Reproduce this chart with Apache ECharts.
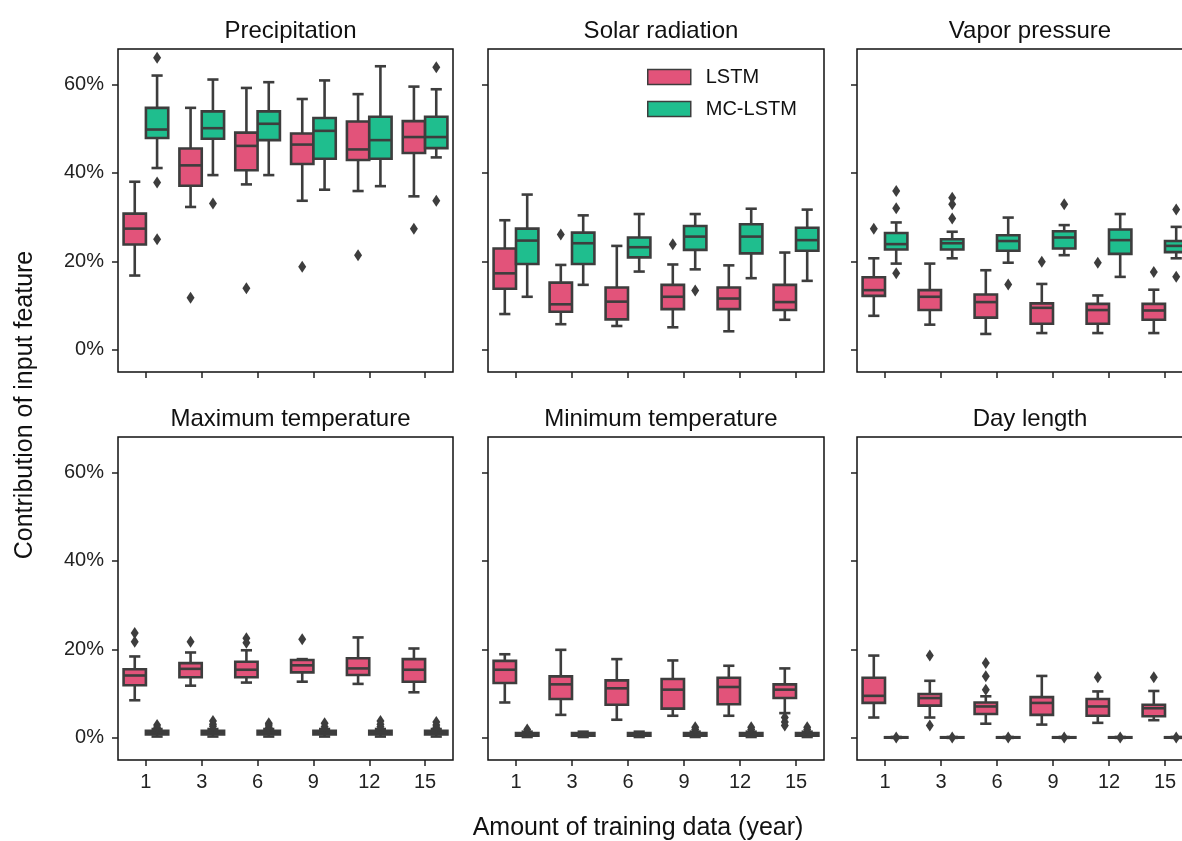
<!DOCTYPE html>
<html>
<head>
<meta charset="utf-8">
<script src="https://cdn.jsdelivr.net/npm/echarts@6/dist/echarts.min.js"></script>
<style>
  html, body { margin: 0; padding: 0; background: #fff; overflow: hidden; }
  #chart { width: 1200px; height: 841px; }
</style>
</head>
<body>
<div id="chart"></div>
<script>
// years of training data
var years = ["1", "3", "6", "9", "12", "15"];
var features = ["Precipitation", "Solar radiation", "Vapor pressure",
  "Maximum temperature", "Minimum temperature", "Day length"];
var yTicks = [0, 20, 40, 60];

// box stats per year: [low whisker, Q1, median, Q3, high whisker] (%)
var precipLstm = [[16.8, 23.8, 27.4, 30.8, 38.0], [32.3, 37.1, 41.7, 45.5, 54.7], [37.4, 40.6, 46.1, 49.1, 59.2],
  [33.7, 42.0, 46.4, 48.9, 56.7], [35.9, 42.9, 45.3, 51.6, 57.8], [34.7, 44.5, 48.1, 51.7, 59.5]];
var precipLstmOut = [[], [11.8], [13.9], [18.8], [21.4], [27.4]];
var precipMc = [[41.1, 47.9, 49.8, 54.7, 62.0], [39.5, 47.7, 50.1, 53.9, 61.1], [39.5, 47.4, 51.1, 53.9, 60.5],
  [36.2, 43.2, 49.5, 52.4, 60.9], [37.0, 43.2, 47.4, 52.7, 64.1], [43.5, 45.6, 48.1, 52.7, 58.9]];
var precipMcOut = [[66.0, 37.8, 25.0], [33.1], [], [], [], [63.9, 33.7]];

var solarLstm = [[8.1, 13.8, 17.3, 22.9, 29.3], [5.8, 8.6, 10.3, 15.2, 19.2], [5.4, 6.9, 10.9, 14.1, 23.5],
  [5.1, 9.2, 12.0, 14.7, 19.3], [4.2, 9.2, 11.6, 14.1, 19.1], [6.8, 9.0, 10.8, 14.7, 22.0]];
var solarLstmOut = [[], [26.1], [], [23.9], [], []];
var solarMc = [[12.0, 19.4, 24.7, 27.4, 35.1], [14.7, 19.4, 24.1, 26.5, 30.4], [17.7, 20.9, 23.2, 25.4, 30.7],
  [18.2, 22.6, 25.6, 28.0, 30.7], [16.2, 21.8, 25.6, 28.4, 31.9], [15.6, 22.4, 24.8, 27.6, 31.7]];
var solarMcOut = [[], [], [], [13.4], [], []];

var vaporLstm = [[7.7, 12.2, 13.5, 16.4, 20.7], [5.7, 9.0, 12.0, 13.5, 19.5], [3.6, 7.3, 10.8, 12.5, 18.0],
  [3.8, 5.9, 9.5, 10.5, 14.9], [3.8, 5.9, 9.0, 10.4, 12.3], [3.8, 6.8, 8.9, 10.4, 13.6]];
var vaporLstmOut = [[27.4], [], [], [19.9], [19.7], [17.6]];
var vaporMc = [[19.5, 22.7, 23.9, 26.4, 28.8], [20.7, 22.7, 24.1, 25.0, 26.7], [19.7, 22.4, 24.6, 25.9, 29.9],
  [21.4, 22.9, 25.4, 26.8, 28.2], [16.5, 21.7, 24.8, 27.2, 30.7], [20.7, 22.1, 23.5, 24.6, 27.8]];
var vaporMcOut = [[35.9, 32.0, 17.3], [34.4, 32.9, 29.7], [14.8], [32.9], [], [31.7, 16.5]];

var maxTLstm = [[8.5, 11.9, 14.1, 15.5, 18.4], [11.8, 13.7, 15.6, 16.9, 19.3], [12.5, 13.7, 15.4, 17.2, 19.8],
  [12.7, 14.8, 16.4, 17.6, 17.8], [12.2, 14.2, 15.7, 18.0, 22.7], [10.3, 12.7, 15.4, 17.8, 20.2]];
var maxTLstmOut = [[23.7, 21.7], [21.7], [22.5, 21.5], [22.3], [], []];
var maxTMc = [[0.3, 0.8, 1.2, 1.6, 2.0], [0.3, 0.8, 1.2, 1.6, 2.0], [0.3, 0.8, 1.2, 1.6, 2.0],
  [0.3, 0.8, 1.2, 1.6, 2.0], [0.3, 0.8, 1.2, 1.6, 2.0], [0.3, 0.8, 1.2, 1.6, 2.0]];
var maxTMcOut = [[2.4, 2.9], [2.6, 3.1, 3.8], [2.4, 2.9, 3.3], [2.5, 3.3], [2.5, 3.1, 3.8], [2.4, 2.9, 3.6]];

var minTLstm = [[8.0, 12.4, 15.4, 17.4, 18.9], [5.2, 8.8, 12.1, 13.9, 19.9], [4.1, 7.5, 11.2, 13.0, 17.8],
  [5.0, 6.6, 10.9, 13.3, 17.5], [5.0, 7.6, 11.5, 13.6, 16.3], [5.6, 9.0, 10.9, 12.1, 15.7]];
var minTLstmOut = [[], [], [], [], [], [4.6, 3.6, 2.8]];
var minTMc = [[0.2, 0.5, 0.8, 1.1, 1.4], [0.2, 0.5, 0.8, 1.1, 1.4], [0.2, 0.5, 0.8, 1.1, 1.4],
  [0.2, 0.5, 0.8, 1.1, 1.4], [0.2, 0.5, 0.8, 1.1, 1.4], [0.2, 0.5, 0.8, 1.1, 1.4]];
var minTMcOut = [[1.9], [], [], [1.9, 2.4], [1.9, 2.4], [1.9, 2.4]];

var dayLstm = [[4.6, 7.9, 9.5, 13.6, 18.6], [4.6, 7.3, 9.0, 9.9, 12.9], [3.2, 5.4, 7.1, 8.0, 9.4],
  [3.0, 5.2, 7.9, 9.2, 14.0], [3.4, 5.0, 7.1, 8.8, 10.5], [4.0, 4.9, 6.7, 7.5, 10.6]];
var dayLstmOut = [[], [18.6, 2.8], [16.9, 13.9, 10.9], [], [13.7], [13.7]];
var dayMc = [[0, 0.05, 0.1, 0.15, 0.2], [0, 0.05, 0.1, 0.15, 0.2], [0, 0.05, 0.1, 0.15, 0.2],
  [0, 0.05, 0.1, 0.15, 0.2], [0, 0.05, 0.1, 0.15, 0.2], [0, 0.05, 0.1, 0.15, 0.2]];
var dayMcOut = [[0.1], [0.1], [0.1], [0.1], [0.1], [0.1]];

var panels = [
  [precipLstm, precipLstmOut, precipMc, precipMcOut],
  [solarLstm, solarLstmOut, solarMc, solarMcOut],
  [vaporLstm, vaporLstmOut, vaporMc, vaporMcOut],
  [maxTLstm, maxTLstmOut, maxTMc, maxTMcOut],
  [minTLstm, minTLstmOut, minTMc, minTMcOut],
  [dayLstm, dayLstmOut, dayMc, dayMcOut]
];

var pink = "#e2537a", green = "#1fbe8e", edge = "#3d3d3d";
var font = "Liberation Sans";
var colLeft = [118, 488, 857], colWidth = [335, 336, 336];
var rowTop = [49, 437], rowHeight = 323;

function boxRenderer(side, color) {
  return function (params, api) {
    var cat = api.value(0);
    var band = api.size([1, 0])[0];
    var w = band * 0.4;
    var cx = api.coord([cat, 0])[0] + side * band * 0.2;
    var yLow = api.coord([cat, api.value(1)])[1];
    var yQ1 = api.coord([cat, api.value(2)])[1];
    var yMed = api.coord([cat, api.value(3)])[1];
    var yQ3 = api.coord([cat, api.value(4)])[1];
    var yHigh = api.coord([cat, api.value(5)])[1];
    var ls = { stroke: edge, lineWidth: 2.6 };
    return {
      type: "group",
      children: [
        { type: "line", shape: { x1: cx, y1: yQ3, x2: cx, y2: yHigh }, style: ls },
        { type: "line", shape: { x1: cx, y1: yQ1, x2: cx, y2: yLow }, style: ls },
        { type: "line", shape: { x1: cx - w / 4, y1: yHigh, x2: cx + w / 4, y2: yHigh }, style: ls },
        { type: "line", shape: { x1: cx - w / 4, y1: yLow, x2: cx + w / 4, y2: yLow }, style: ls },
        { type: "rect", shape: { x: cx - w / 2, y: yQ3, width: w, height: Math.max(yQ1 - yQ3, 0.5) },
          style: { fill: color, stroke: edge, lineWidth: 2.6 } },
        { type: "line", shape: { x1: cx - w / 2, y1: yMed, x2: cx + w / 2, y2: yMed }, style: ls }
      ]
    };
  };
}

var grids = [], xAxes = [], yAxes = [], titles = [], series = [];
panels.forEach(function (p, i) {
  var r = Math.floor(i / 3), c = i % 3;
  grids.push({
    left: colLeft[c], top: rowTop[r], width: colWidth[c], height: rowHeight,
    show: true, borderColor: "#111", borderWidth: 1.5, backgroundColor: "transparent"
  });
  xAxes.push({
    type: "category", gridIndex: i, data: years, position: "bottom",
    axisLine: { show: false, onZero: false },
    axisTick: { show: true, alignWithLabel: true, length: 6, lineStyle: { color: "#222", width: 1.5 } },
    axisLabel: { show: r === 1, fontSize: 20, color: "#222", fontFamily: font, margin: 12 },
    splitLine: { show: false }
  });
  yAxes.push({
    type: "value", gridIndex: i, min: -5, max: 68, position: "left",
    axisLine: { show: false, onZero: false },
    axisTick: { show: true, length: 6, customValues: yTicks, lineStyle: { color: "#222", width: 1.5 } },
    axisLabel: { show: c === 0, customValues: yTicks, formatter: "{value}%", fontSize: 20,
      color: "#222", fontFamily: font, margin: 14 },
    splitLine: { show: false }
  });
  titles.push({
    text: features[i], left: colLeft[c] + colWidth[c] / 2, top: rowTop[r] - 35, textAlign: "center",
    textStyle: { fontSize: 24, fontWeight: "normal", color: "#111", fontFamily: font }
  });
  [[p[0], p[1], -1, pink, "LSTM"], [p[2], p[3], 1, green, "MC-LSTM"]].forEach(function (s) {
    series.push({
      type: "custom", name: s[4], xAxisIndex: i, yAxisIndex: i,
      renderItem: boxRenderer(s[2], s[3]),
      itemStyle: { color: s[3], borderColor: edge, borderWidth: 1.5 },
      encode: { x: 0, y: [1, 2, 3, 4, 5] },
      data: s[0].map(function (b, k) { return [k].concat(b); }),
      z: 2
    });
    var pts = [];
    s[1].forEach(function (list, k) { list.forEach(function (v) { pts.push([k, v]); }); });
    series.push({
      type: "scatter", name: s[4] + " outliers", xAxisIndex: i, yAxisIndex: i,
      symbol: "diamond", symbolSize: [8, 12], symbolOffset: [s[2] * 11.2, 0],
      itemStyle: { color: edge, opacity: 1 }, data: pts, z: 3
    });
  });
});

var chart = echarts.init(document.getElementById("chart"));
chart.setOption({
  animation: false,
  backgroundColor: "#fff",
  title: titles,
  grid: grids,
  xAxis: xAxes,
  yAxis: yAxes,
  legend: {
    orient: "vertical", left: 647, top: 67, padding: 0, itemGap: 12,
    itemWidth: 43, itemHeight: 15, icon: "rect",
    textStyle: { fontSize: 20, color: "#111", fontFamily: font, padding: [0, 0, 0, 10] },
    data: [
      { name: "LSTM", itemStyle: { color: pink, borderColor: edge, borderWidth: 1.5 } },
      { name: "MC-LSTM", itemStyle: { color: green, borderColor: edge, borderWidth: 1.5 } }
    ]
  },
  graphic: [
    { type: "text", x: 25, y: 405, rotation: Math.PI / 2,
      style: { text: "Contribution of input feature", font: "25px Liberation Sans", fill: "#111",
        align: "center", verticalAlign: "middle", textAlign: "center", textVerticalAlign: "middle" } },
    { type: "text", x: 638, y: 828,
      style: { text: "Amount of training data (year)", font: "25px Liberation Sans", fill: "#111",
        align: "center", verticalAlign: "middle", textAlign: "center", textVerticalAlign: "middle" } }
  ],
  series: series
});
</script>
</body>
</html>
